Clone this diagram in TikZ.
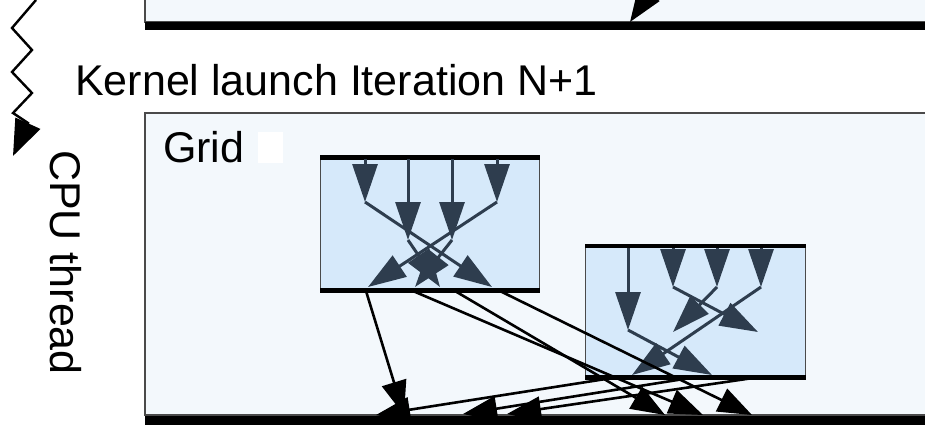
\documentclass[tikz,border=0pt]{standalone}
\usepackage{fontspec}
\setmainfont{Liberation Sans}
\usetikzlibrary{arrows.meta}
\definecolor{paneFill}{HTML}{F3F8FC}
\definecolor{blockFill}{HTML}{D6E9FA}
\definecolor{inkDark}{HTML}{2E3D4E}
\definecolor{frameGray}{HTML}{4A4A4A}
\begin{document}
\begin{tikzpicture}[x=1pt,y=-1pt,
  pane/.style={fill=paneFill, draw=frameGray, line width=1.3pt},
  blockbox/.style={fill=blockFill, draw=frameGray, line width=1.3pt, inner sep=0pt, anchor=north west},
  edgebar/.style={draw=black, line width=4.5pt},
  floorbar/.style={draw=black, line width=9pt},
  inner/.style={draw=inkDark, line width=3pt, -{Triangle[length=38pt,width=25pt]}},
  link/.style={draw=black, line width=2.6pt, -{Triangle[length=34pt,width=25pt]}},
  lbl/.style={inner sep=0pt, font=\fontsize{43}{50}\selectfont}]
\useasboundingbox (0,0) rectangle (925,424);
\clip (0,0) rectangle (925,424);

% previous iteration pane (top)
\path[pane] (145,-10) rectangle (940,22);
\coordinate (prevSrc) at (672,-40);
\coordinate (prevTip) at (630,22);
\draw[link] (prevSrc) -- (prevTip);
\draw[floorbar, line width=8pt] (145,26) -- (940,26);

% CPU thread zigzag
\draw[line width=2.4pt, line join=miter, -{Triangle[length=36pt,width=27pt]}]
  (36,0) -- (12,28) -- (32,50) -- (12,72) -- (32,93) -- (13,113) -- (28,123) -- (13,156);

% labels
\node[lbl, anchor=base west] (kernelLbl) at (75,95) {Kernel launch Iteration N+1};
\node[lbl, anchor=base west, rotate=-90] (cpuLbl) at (50,150) {CPU thread};

% grid pane
\path[pane] (145,113) rectangle (940,415);
\node[lbl, anchor=base west] (gridLbl) at (163,162) {Grid};
\fill[white] (258,132) rectangle (283,163);

% block A
\node[blockbox, minimum width=219pt, minimum height=136pt] (blkA) at (320,155) {};
\draw[edgebar] ([yshift=-2.5pt]blkA.north west) -- ([yshift=-2.5pt]blkA.north east);
\draw[edgebar] ([yshift=2pt]blkA.south west) -- ([yshift=2pt]blkA.south east);

\coordinate (a1s) at (365,159); \coordinate (a1m) at (365,202);
\coordinate (a2s) at (408,159); \coordinate (a2m) at (408,240);
\coordinate (a3s) at (452,159); \coordinate (a3m) at (452,240);
\coordinate (a4s) at (497,159); \coordinate (a4m) at (497,202);
\coordinate (a1e) at (492,287);
\coordinate (a2e) at (440,287);
\coordinate (a3e) at (415,287);
\coordinate (a4e) at (368,287);
\draw[inner] (a1s) -- (a1m);
\draw[inner] (a2s) -- (a2m);
\draw[inner] (a3s) -- (a3m);
\draw[inner] (a4s) -- (a4m);
\draw[inner] (a1m) -- (a1e);
\draw[inner] (a4m) -- (a4e);
\draw[inner] (a2m) -- (a2e);
\draw[inner] (a3m) -- (a3e);

% block B
\node[blockbox, minimum width=220pt, minimum height=134pt] (blkB) at (585,244) {};
\draw[edgebar] ([yshift=-2pt]blkB.north west) -- ([yshift=-2pt]blkB.north east);
\draw[edgebar] ([yshift=2pt]blkB.south west) -- ([yshift=2pt]blkB.south east);

\coordinate (b1s) at (628,248); \coordinate (b1m) at (628,330);
\coordinate (b2s) at (673,248); \coordinate (b2m) at (673,287);
\coordinate (b3s) at (717,248); \coordinate (b3m) at (717,287);
\coordinate (b4s) at (761,248); \coordinate (b4m) at (761,287);
\coordinate (b1e) at (712,375);
\coordinate (b2e) at (758,332);
\coordinate (b3e) at (673,332);
\coordinate (b4e) at (632,375);
\draw[inner] (b1s) -- (b1m);
\draw[inner] (b2s) -- (b2m);
\draw[inner] (b3s) -- (b3m);
\draw[inner] (b4s) -- (b4m);
\draw[inner] (b1m) -- (b1e);
\draw[inner] (b2m) -- (b2e);
\draw[inner] (b3m) -- (b3e);
\draw[inner] (b4m) -- (b4e);

% connectors to the bottom bar
\coordinate (cA1) at (366,291); \coordinate (tA1) at (404,415);
\coordinate (cA2) at (413,291); \coordinate (tA2) at (703,415);
\coordinate (cA3) at (455,291); \coordinate (tA3) at (665,415);
\coordinate (cA4) at (500,291); \coordinate (tA4) at (752,415);
\coordinate (cB1) at (612,378); \coordinate (tB1) at (376,415);
\coordinate (cB2) at (690,378); \coordinate (tB2) at (463,414);
\coordinate (cB3) at (753,378); \coordinate (tB3) at (507,414);
\draw[link] (cA1) -- (tA1);
\draw[link] (cA2) -- (tA2);
\draw[link] (cA3) -- (tA3);
\draw[link] (cA4) -- (tA4);
\draw[link] (cB1) -- (tB1);
\draw[link] (cB2) -- (tB2);
\draw[link] (cB3) -- (tB3);

% bottom bar
\draw[floorbar] (145,420) -- (940,420);
\end{tikzpicture}
\end{document}
